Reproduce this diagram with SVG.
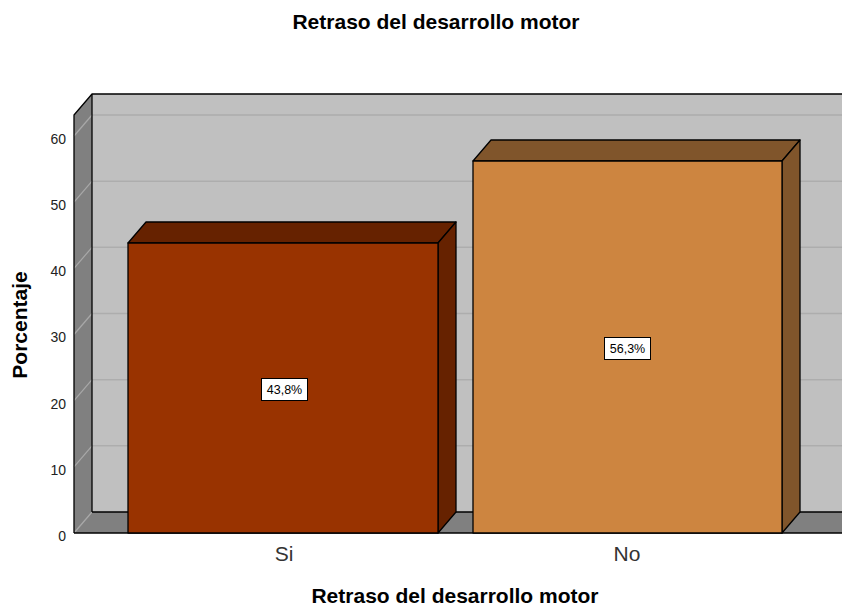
<svg xmlns="http://www.w3.org/2000/svg" width="842" height="607" viewBox="0 0 842 607">
<style>
.t{font-family:"Liberation Sans",Arial,sans-serif;fill:#000}
.tt{font-size:21px;font-weight:bold}
.tick{font-size:14px;text-anchor:end;fill:#222}
.cat{font-size:21px;text-anchor:middle;fill:#333}
.edge{stroke:#000;stroke-width:1.3;stroke-linejoin:round}
.gb{stroke:#adadad;stroke-width:1.5}
.gl{stroke:#a8a8a8;stroke-width:1.2}
.lbl{fill:#fff;stroke:#000;stroke-width:1}
.lt{font-size:12.5px;text-anchor:middle}
</style>
<rect width="842" height="607" fill="#fff"/>
<text class="t tt" x="436" y="29" text-anchor="middle">Retraso del desarrollo motor</text>
<g id="axes">
<polygon points="92,94 842,94 842,512 92,512" fill="#c0c0c0"/>
<polygon points="74,115 92,94 92,512 74,533" fill="#808080"/>
<polygon points="74,533 92,512 860,512 842,533" fill="#808080"/>
<g id="grid">
<line class="gb" x1="92" y1="445.8" x2="842" y2="445.8"/>
<line class="gb" x1="92" y1="379.7" x2="842" y2="379.7"/>
<line class="gb" x1="92" y1="313.5" x2="842" y2="313.5"/>
<line class="gb" x1="92" y1="247.3" x2="842" y2="247.3"/>
<line class="gb" x1="92" y1="181.2" x2="842" y2="181.2"/>
<line class="gb" x1="92" y1="115" x2="842" y2="115"/>
<line class="gl" x1="74" y1="533" x2="92" y2="512"/>
<line class="gl" x1="74" y1="466.8" x2="92" y2="445.8"/>
<line class="gl" x1="74" y1="400.7" x2="92" y2="379.7"/>
<line class="gl" x1="74" y1="334.5" x2="92" y2="313.5"/>
<line class="gl" x1="74" y1="268.3" x2="92" y2="247.3"/>
<line class="gl" x1="74" y1="202.2" x2="92" y2="181.2"/>
<line class="gl" x1="74" y1="136" x2="92" y2="115"/>
</g>
<polyline class="edge" points="74,533 74,115 92,94 842,94" fill="none"/>
<line class="edge" x1="92" y1="94" x2="92" y2="512"/>
<polyline class="edge" points="92,512 842,512" fill="none" stroke-width="1"/>
<line class="edge" x1="74" y1="533" x2="842" y2="533"/>
<g class="t tick">
<text x="66" y="541">0</text>
<text x="66" y="475">10</text>
<text x="66" y="409">20</text>
<text x="66" y="342">30</text>
<text x="66" y="276">40</text>
<text x="66" y="210">50</text>
<text x="66" y="144">60</text>
</g>
</g>
<g id="bar-si">
<polygon class="edge" points="128,243 146,222 456,222 438,243" fill="#662200"/>
<polygon class="edge" points="438,243 456,222 456,512 438,533" fill="#662200"/>
<rect class="edge" x="128" y="243" width="310" height="290" fill="#993300"/>
<rect class="lbl" x="261.5" y="378.5" width="46" height="22"/>
<text class="t lt" x="284.5" y="394">43,8%</text>
</g>
<g id="bar-no">
<polygon class="edge" points="473,161 491,140 800,140 782,161" fill="#80552b"/>
<polygon class="edge" points="782,161 800,140 800,512 782,533" fill="#80552b"/>
<rect class="edge" x="473" y="161" width="309" height="372" fill="#cd8540"/>
<rect class="lbl" x="604.5" y="337.5" width="46" height="22"/>
<text class="t lt" x="627.5" y="353">56,3%</text>
</g>
<text class="t cat" x="284" y="561">Si</text>
<text class="t cat" x="627" y="561">No</text>
<text class="t tt" x="455" y="603" text-anchor="middle" font-size="20">Retraso del desarrollo motor</text>
<text class="t tt" transform="translate(27,325) rotate(-90)" text-anchor="middle">Porcentaje</text>
</svg>
